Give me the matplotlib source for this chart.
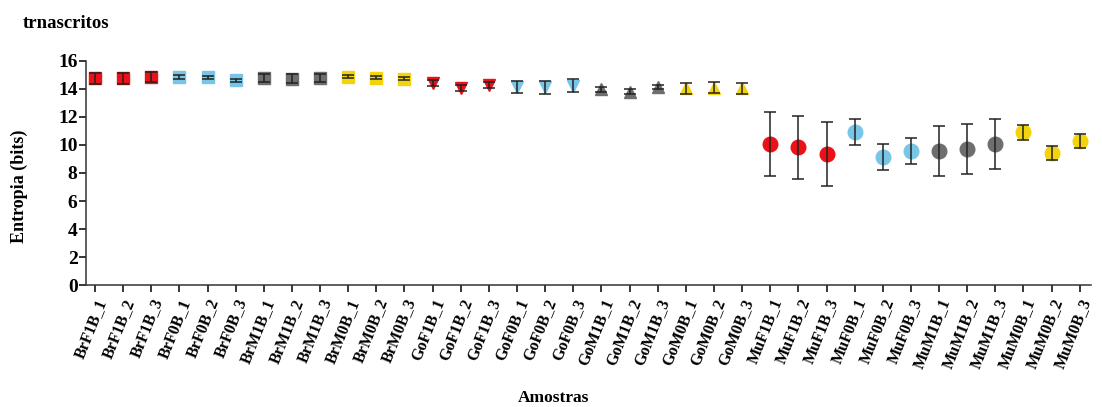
import numpy as np
import matplotlib.pyplot as plt

plt.rcParams['font.family'] = ['Liberation Serif', 'DejaVu Serif']
plt.rcParams['font.weight'] = 'bold'

# amostras e médias de entropia (bits) com o desvio
amostras = ['BrF1B_1', 'BrF1B_2', 'BrF1B_3', 'BrF0B_1', 'BrF0B_2', 'BrF0B_3',
            'BrM1B_1', 'BrM1B_2', 'BrM1B_3', 'BrM0B_1', 'BrM0B_2', 'BrM0B_3',
            'GoF1B_1', 'GoF1B_2', 'GoF1B_3', 'GoF0B_1', 'GoF0B_2', 'GoF0B_3',
            'GoM1B_1', 'GoM1B_2', 'GoM1B_3', 'GoM0B_1', 'GoM0B_2', 'GoM0B_3',
            'MuF1B_1', 'MuF1B_2', 'MuF1B_3', 'MuF0B_1', 'MuF0B_2', 'MuF0B_3',
            'MuM1B_1', 'MuM1B_2', 'MuM1B_3', 'MuM0B_1', 'MuM0B_2', 'MuM0B_3']

media = [14.73, 14.73, 14.83, 14.83, 14.80, 14.59,
         14.78, 14.72, 14.78, 14.85, 14.78, 14.72,
         14.40, 14.05, 14.28, 14.12, 14.10, 14.22,
         13.95, 13.80, 14.10, 14.04, 14.08, 14.02,
         10.04, 9.82, 9.35, 10.89, 9.15, 9.58,
         9.56, 9.68, 10.04, 10.89, 9.44, 10.29]

desvio = [0.36, 0.36, 0.36, 0.12, 0.12, 0.12,
          0.30, 0.30, 0.30, 0.12, 0.12, 0.12,
          0.20, 0.20, 0.20, 0.45, 0.45, 0.45,
          0.15, 0.15, 0.15, 0.40, 0.40, 0.40,
          2.27, 2.25, 2.26, 0.93, 0.93, 0.91,
          1.79, 1.78, 1.79, 0.51, 0.50, 0.51]

cores = {'F1B': '#ea1218', 'F0B': '#78c5e6', 'M1B': '#6e6e6e', 'M0B': '#f3d30c'}
marcadores = {'BrF': 's', 'BrM': 's', 'GoF': 'v', 'GoM': '^', 'MuF': 'o', 'MuM': 'o'}
tamanhos = {'s': 8.5, 'v': 8.5, '^': 8.5, 'o': 10.5}

fig, ax = plt.subplots(figsize=(11.02, 4.07), dpi=100)
fig.subplots_adjust(left=0.078, right=0.99, bottom=0.299, top=0.851)

x = np.arange(len(amostras))
for i, nome in enumerate(amostras):
    cor = cores[nome[2:5]]
    m = marcadores[nome[:3]]
    ax.plot(x[i], media[i], marker=m, color=cor, markersize=tamanhos[m],
            linestyle='none', zorder=2)
    ax.errorbar(x[i], media[i], yerr=desvio[i], fmt='none', ecolor='#222222',
                elinewidth=1.1, capsize=4, capthick=1.1, zorder=3)

ax.set_xlim(-0.32, 35.4)
ax.set_ylim(0, 16)
ax.set_yticks(np.arange(0, 17, 2))
ax.set_xticks(x)
ax.set_xticklabels(amostras, rotation=68, ha='right', va='top',
                   rotation_mode='anchor', fontsize=11.5, fontweight='bold')
ax.tick_params(axis='y', labelsize=14, width=1.1, length=5, pad=1)
ax.tick_params(axis='x', width=1.1, length=5, pad=3)

for lado in ['top', 'right']:
    ax.spines[lado].set_visible(False)
for lado in ['left', 'bottom']:
    ax.spines[lado].set_linewidth(1.1)
    ax.spines[lado].set_color('#333333')

ax.set_ylabel('Entropia (bits)', fontsize=13, fontweight='bold')
ax.yaxis.set_label_coords(-0.058, 0.44)
fig.text(0.502, 0.012, 'Amostras', ha='center', fontsize=12.5, fontweight='bold')
fig.text(0.021, 0.93, 'trnascritos', ha='left', fontsize=13.5, fontweight='bold')

fig.savefig('out.png', dpi=100)
